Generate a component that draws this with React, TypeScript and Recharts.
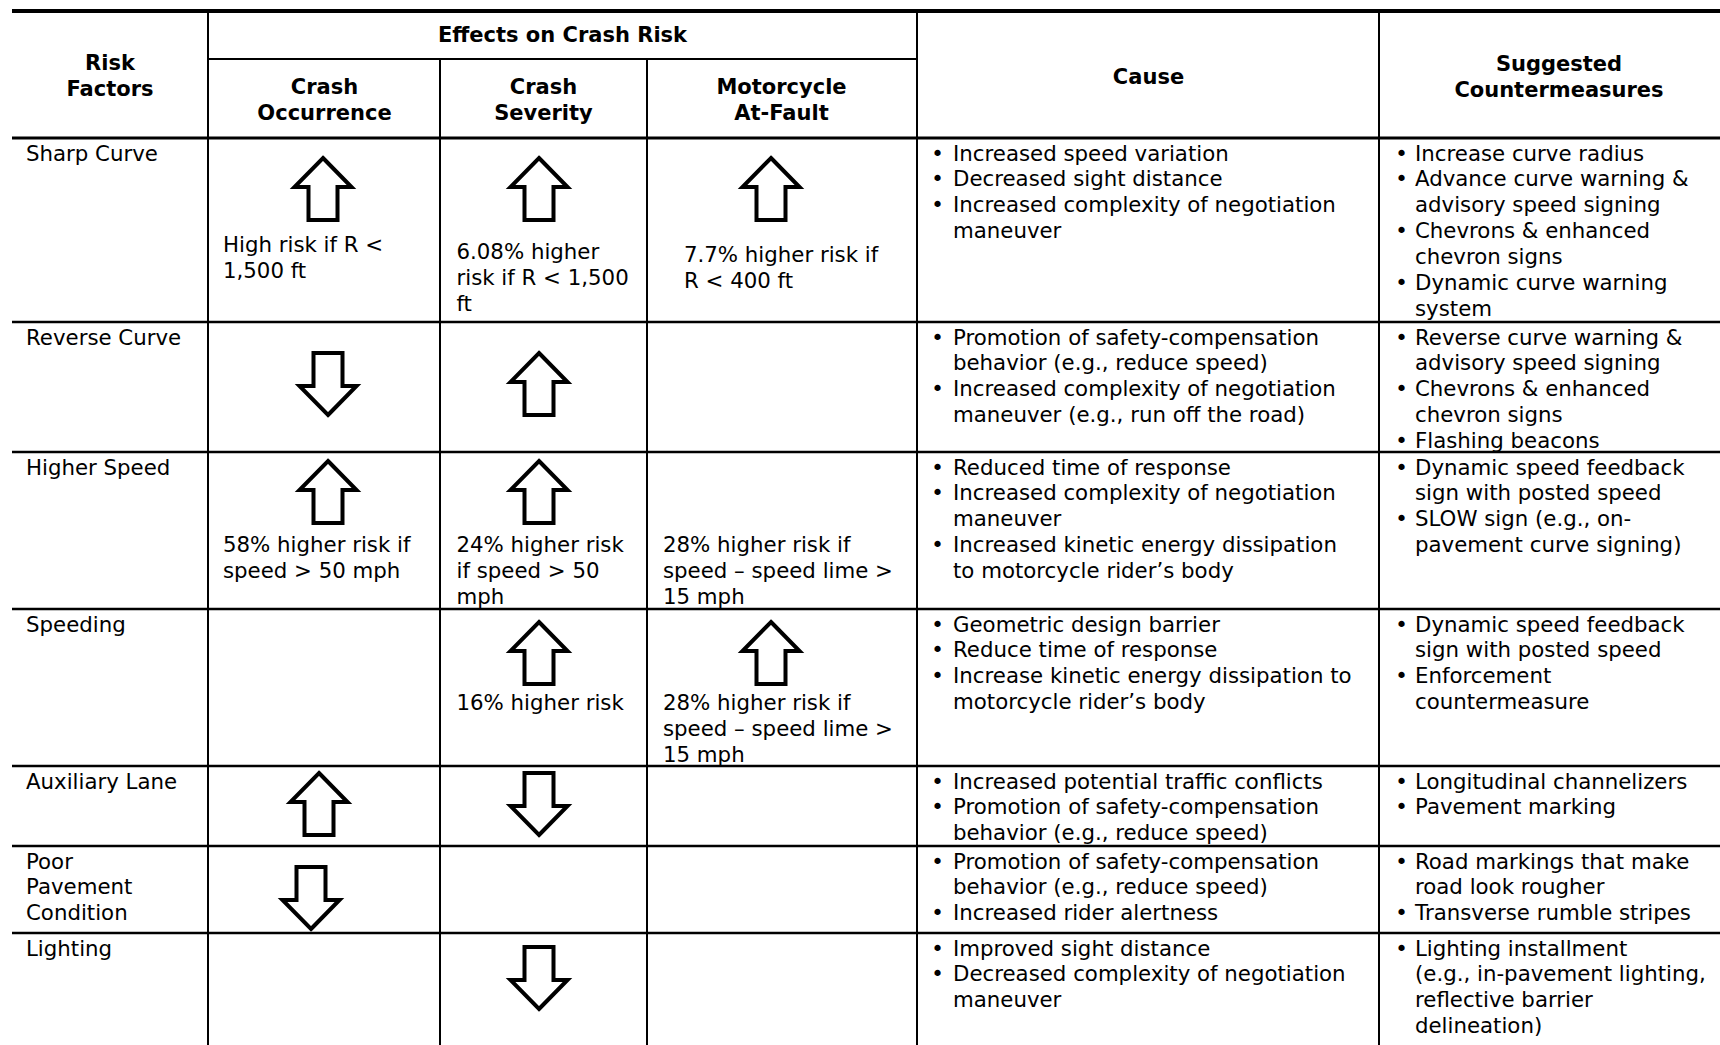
import React from 'react';
import { ScatterChart, Scatter, XAxis, YAxis, ReferenceLine } from 'recharts';

type Dir = 'up' | 'down' | null;

// ---- table content ----
const effectsTitle = 'Effects on Crash Risk';
const columnHeaders = [
  ['Risk', 'Factors'],
  ['Crash', 'Occurrence'],
  ['Crash', 'Severity'],
  ['Motorcycle', 'At-Fault'],
  ['Cause'],
  ['Suggested', 'Countermeasures'],
];

const riskFactors = [
  ['Sharp Curve'],
  ['Reverse Curve'],
  ['Higher Speed'],
  ['Speeding'],
  ['Auxiliary Lane'],
  ['Poor', 'Pavement', 'Condition'],
  ['Lighting'],
];

const crashOccurrence: Dir[] = ['up', 'down', 'up', null, 'up', 'down', null];
const crashSeverity: Dir[] = ['up', 'up', 'up', 'up', 'down', null, 'down'];
const motorcycleAtFault: Dir[] = ['up', null, null, 'up', null, null, null];

const occurrenceNotes = [
  ['High risk if R <', '1,500 ft'],
  null,
  ['58% higher risk if', 'speed > 50 mph'],
  null, null, null, null,
];
const severityNotes = [
  ['6.08% higher', 'risk if R < 1,500', 'ft'],
  null,
  ['24% higher risk', 'if speed > 50', 'mph'],
  ['16% higher risk'],
  null, null, null,
];
const atFaultNotes = [
  ['7.7% higher risk if', 'R < 400 ft'],
  null,
  ['28% higher risk if', 'speed \u2013 speed lime >', '15 mph'],
  ['28% higher risk if', 'speed \u2013 speed lime >', '15 mph'],
  null, null, null,
];

const causes = [
  [['Increased speed variation'], ['Decreased sight distance'], ['Increased complexity of negotiation', 'maneuver']],
  [['Promotion of safety-compensation', 'behavior (e.g., reduce speed)'], ['Increased complexity of negotiation', 'maneuver (e.g., run off the road)']],
  [['Reduced time of response'], ['Increased complexity of negotiation', 'maneuver'], ['Increased kinetic energy dissipation', 'to motorcycle rider\u2019s body']],
  [['Geometric design barrier'], ['Reduce time of response'], ['Increase kinetic energy dissipation to', 'motorcycle rider\u2019s body']],
  [['Increased potential traffic conflicts'], ['Promotion of safety-compensation', 'behavior (e.g., reduce speed)']],
  [['Promotion of safety-compensation', 'behavior (e.g., reduce speed)'], ['Increased rider alertness']],
  [['Improved sight distance'], ['Decreased complexity of negotiation', 'maneuver']],
];

const countermeasures = [
  [['Increase curve radius'], ['Advance curve warning &', 'advisory speed signing'], ['Chevrons & enhanced', 'chevron signs'], ['Dynamic curve warning', 'system']],
  [['Reverse curve warning &', 'advisory speed signing'], ['Chevrons & enhanced', 'chevron signs'], ['Flashing beacons']],
  [['Dynamic speed feedback', 'sign with posted speed'], ['SLOW sign (e.g., on-', 'pavement curve signing)']],
  [['Dynamic speed feedback', 'sign with posted speed'], ['Enforcement', 'countermeasure']],
  [['Longitudinal channelizers'], ['Pavement marking']],
  [['Road markings that make', 'road look rougher'], ['Transverse rumble stripes']],
  [['Lighting installment', '(e.g., in-pavement lighting,', 'reflective barrier', 'delineation)']],
];

// ---- layout ----
const W = 1720;
const H = 1045;
const FONT = 21.3;
const BOLD_FONT = 21;
const LINE = 25.9;
const BASE = 7;
const FAMILY = '"DejaVu Sans", Verdana, sans-serif';

const tableLeft = 12;
const colEdges = [208, 440, 647, 917, 1379];
const rowEdges = [138, 322, 452, 609, 766, 846, 933, H];
const topRule = 11;
const effectsRule = 59;

const headerX = [110, 324.5, 543.5, 781.5, 1148.5, 1559];
const headerY = [63, 87.3, 87.3, 87.3, 76.7, 64];

// arrows sit at a column anchor, nudged a little per row like the source
const arrowX = [323, 539, 771];
const arrowNudge = [0, 5, 5, 0, -4, -12, 0];
const arrowGap = [18, 29, 7, 11, 5, 19, 12];
const ARROW_HALF = 33;

const noteX = [223, 456.5, 663];
const noteGap = [[107, 114, 117], null, [93, 93, 93], [94, 94, 94], null, null, null];
const noteShift = [[0, 0, 21], null, null, null, null, null, null];

const labelX = 26;
const firstLine = 15.5;
const causeBullet = 937.5;
const causeText = 953;
const counterBullet = 1401.5;
const counterText = 1415;

interface TextPoint {
  x: number;
  y: number;
  lines: string[];
  anchor: 'start' | 'middle';
  bold?: boolean;
  size?: number;
}

interface ArrowPoint {
  x: number;
  y: number;
  dir: 'up' | 'down';
}

const textPoints: TextPoint[] = [];
const arrowPoints: ArrowPoint[] = [];

textPoints.push({ x: (colEdges[0] + colEdges[3]) / 2, y: 35, lines: [effectsTitle], anchor: 'middle', bold: true });
columnHeaders.forEach((lines, i) => {
  textPoints.push({ x: headerX[i], y: headerY[i], lines, anchor: 'middle', bold: true });
});

const effects = [crashOccurrence, crashSeverity, motorcycleAtFault];
const notes = [occurrenceNotes, severityNotes, atFaultNotes];

const bulletBlock = (items: string[][], top: number, bx: number, tx: number) => {
  let line = 0;
  items.forEach((item) => {
    const y = top + firstLine + line * LINE;
    textPoints.push({ x: bx, y, lines: ['\u2022'], anchor: 'middle' });
    textPoints.push({ x: tx, y, lines: item, anchor: 'start' });
    line += item.length;
  });
};

riskFactors.forEach((label, r) => {
  const top = rowEdges[r];
  textPoints.push({ x: labelX, y: top + firstLine, lines: label, anchor: 'start' });
  effects.forEach((col, c) => {
    const dir = col[r];
    if (dir) {
      const nudge = c === 0 ? arrowNudge[r] : 0;
      arrowPoints.push({ x: arrowX[c] + nudge, y: top + arrowGap[r] + ARROW_HALF, dir });
    }
    const note = notes[c][r];
    const gaps = noteGap[r];
    if (note && gaps) {
      const shift = noteShift[r] ? noteShift[r]![c] : 0;
      textPoints.push({ x: noteX[c] + shift, y: top + gaps[c], lines: note, anchor: 'start' });
    }
  });
  bulletBlock(causes[r], top, causeBullet, causeText);
  bulletBlock(countermeasures[r], top, counterBullet, counterText);
});

const TextShape = (props: any) => {
  const { cx, cy, payload } = props;
  const p = payload as TextPoint;
  return (
    <text
      textAnchor={p.anchor}
      fontFamily={FAMILY}
      fontSize={p.bold ? BOLD_FONT : FONT}
      fontWeight={p.bold ? 'bold' : 'normal'}
      fill="#000"
    >
      {p.lines.map((l, k) => (
        <tspan key={k} x={cx} y={cy + BASE + k * (p.bold ? 25.5 : LINE)}>
          {l}
        </tspan>
      ))}
    </text>
  );
};

const ArrowShape = (props: any) => {
  const { cx, cy, payload } = props;
  const s = payload.dir === 'up' ? 1 : -1;
  const hh = 31;
  const head = 28.5;
  const shaft = 14.5;
  const base = -hh + 29;
  const pts = [
    [0, -hh],
    [head, base],
    [shaft, base],
    [shaft, hh],
    [-shaft, hh],
    [-shaft, base],
    [-head, base],
  ]
    .map(([x, y]) => `${cx + x},${cy + s * y}`)
    .join(' ');
  return <polygon points={pts} fill="#fff" stroke="#000" strokeWidth={4} strokeLinejoin="miter" />;
};

const seg = (x1: number, y1: number, x2: number, y2: number) => [
  { x: x1, y: y1 },
  { x: x2, y: y2 },
];

export default function App() {
  return (
    <div style={{ position: 'absolute', left: 0, top: 0, width: W, height: H, background: '#fff' }}>
      <ScatterChart width={W} height={H} margin={{ top: 0, right: 0, bottom: 0, left: 0 }}>
        <XAxis type="number" dataKey="x" domain={[0, W]} allowDataOverflow hide />
        <YAxis type="number" dataKey="y" domain={[0, H]} reversed allowDataOverflow hide />

        <ReferenceLine segment={seg(tableLeft, topRule, W, topRule)} stroke="#000" strokeWidth={4} ifOverflow="visible" />
        <ReferenceLine segment={seg(colEdges[0], effectsRule, colEdges[3], effectsRule)} stroke="#000" strokeWidth={2} ifOverflow="visible" />
        {rowEdges.slice(0, -1).map((y, i) => (
          <ReferenceLine
            key={`r${i}`}
            segment={seg(tableLeft, y, W, y)}
            stroke="#000"
            strokeWidth={i === 0 ? 3 : 2.5}
            ifOverflow="visible"
          />
        ))}
        {colEdges.map((x, i) => (
          <ReferenceLine
            key={`c${i}`}
            segment={seg(x, i === 1 || i === 2 ? effectsRule : topRule, x, H)}
            stroke="#000"
            strokeWidth={2}
            ifOverflow="visible"
          />
        ))}

        <Scatter data={arrowPoints} shape={ArrowShape} isAnimationActive={false} />
        <Scatter data={textPoints} shape={TextShape} isAnimationActive={false} />
      </ScatterChart>
    </div>
  );
}
